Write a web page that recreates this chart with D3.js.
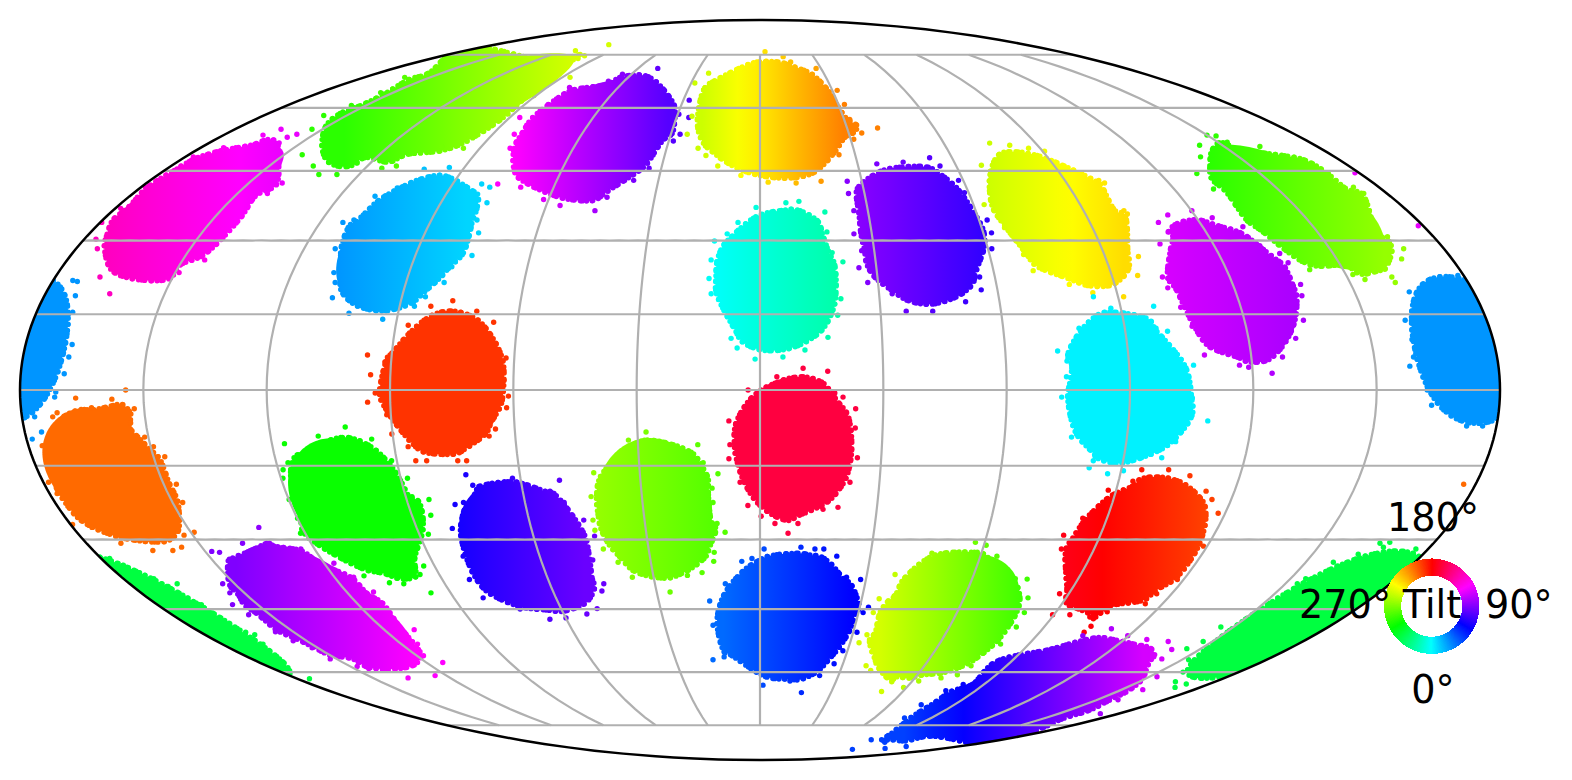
<!DOCTYPE html>
<html>
<head>
<meta charset="utf-8">
<script src="https://cdn.jsdelivr.net/npm/d3@7"></script>
<style>
html, body { margin: 0; padding: 0; background: #fff; }
svg { display: block; }
text { font-family: "DejaVu Sans", sans-serif; fill: #000; }
</style>
</head>
<body>
<svg id="chart" width="1572" height="780"></svg>
<script>
// Cluster centres, degrees
var clusterLon = [175, -160.5, -120, -57.5, 4.5, -95, 43, 82, 152.5, 120, 4.5, -76, 8, 89.5, -164, -105, -64, -27, 8.5, 58, 101.5, -131.5, 114, 172];
var clusterLat = [8, 37.5, 62, 54.5, 57.5, 29, 31.5, 35.5, 37.5, 19.5, 22, 1.5, -11, 0, -17, -23, -31.5, -23, -46.5, -46.5, -31.5, -44.5, -65.5, -47];
// Tilt of each cluster, west and east side
var tiltWest = [25, 135, 290, 120, 252, 25, 92, 252, 290, 110, 358, 192, 165, 3, 205, 298, 65, 265, 35, 250, 175, 90, 45, 315];
var tiltEast = [25, 115, 250, 80, 210, 10, 72, 232, 265, 100, 340, 192, 165, 3, 205, 298, 85, 280, 60, 285, 195, 120, 110, 315];
// These two sit across the map edge
var wrapClusters = [0, 23];

// Stray dots and edge dots of each cluster, [lon, lat], same order as the centres
var clusterDots = [
    [[163.8,19.5],[170.7,22],[178.5,22.8],[159.8,13.8],[160.1,10],[159.6,6.5],[158.4,4.7],[162.3,0],[163.5,-3],[167.9,-4.3],[172.7,-7.1],[176.6,-7.1],
     [-175,21.8],[-173.7,21.6],[-172.2,18.7],[-171,15.4],[-168.6,9],[-168.8,6.5],[-169.4,3.2],[-171.3,-0.4],[-171.6,-1.4],[-176.9,-5.3],[-175.9,-8.3],[-178.6,-9.7]],
    [[-164.2,54.7],[-155.9,53.5],[-157.5,52.8],[-166.8,53.3],[-140.2,42.3],[-141.4,40],[-143.8,34.8],[-144.3,26],[-149,23.4],[-150.7,22.2],[-163.8,19.1],[-168.6,22.5],
     [-174.4,28.3],[-176.9,30.3],[-179.6,33.8],[-178.5,36.8],[-178.7,41.4],[-176.9,46.1],[-177.5,48.2],[-172.6,50.3],[178.7,33.1],[178.8,44.6]],
    [[-153.6,54.7],[-158.3,58.1],[-144.3,48.7],[-136.5,46.1],[-132,44.2],[-126.6,44.2],[-124.1,46.8],[-114.9,45.6],[-111.1,46.1],[-95.3,50.2],[-102.7,50.6],[-161.6,68.2],
     [-156.2,69.4],[-154,71.9],[-155.4,60.6],[-155.1,64],[-102.5,78.4],[-99.6,74.7],[-112.4,76.3],[-86.4,68.2],[-99.6,73.8],[-93.1,57.4],[-90.8,63.2]],
    [[-50.3,70.8],[-27.7,62],[-25.6,57.6],[-29.6,58.4],[-26.9,53.5],[-28.5,51.9],[-33.7,45.6],[-37.3,42.9],[-45.9,36.3],[-43.6,39.2],[-56.1,37.4],[-61.4,38.7],
     [-69.6,41.4],[-76.8,42.1],[-80.3,50.2],[-82.7,53.5],[-86.4,57.6],[-81,60.9],[-80.5,65.4],[-66.9,67.1],[-64.2,69.1]],
    [[3,76],[13,74.4],[-24.2,69.4],[-28.4,66.6],[-24.6,57.9],[-24.5,53.5],[-19.9,50.2],[-17,48.5],[-12.9,46.1],[-5.7,44],[2.4,42.5],[10.6,42.3],
     [18,42.7],[24.9,48.7],[31,52.3],[34.4,53.8],[40.5,55],[32,57.1],[32.3,60.9],[32,64.6],[27.6,70.8],[16.1,72.7],[-3.6,72.2]],
    [[-94.6,45.8],[-101.8,45.4],[-78.6,41.4],[-81.5,42.1],[-77,38],[-77.5,34.3],[-75.6,31.6],[-75.2,26.9],[-79.5,24.6],[-80.3,21.4],[-84.1,18.5],[-86.3,16.6],
     [-93.5,14],[-102.2,15.2],[-107.4,18.3],[-108,21.4],[-109.3,23.4],[-111.8,28.3],[-113.8,33.8],[-111.2,34.3],[-109.9,39.4],[-105.3,41.2]],
    [[53,48],[55,46.1],[58.6,42.9],[58.8,40.2],[62.2,34.3],[62.2,31.6],[61,28.3],[56.1,22.5],[55.9,19.9],[51.5,17.5],[43,15.6],[36.4,15.6],
     [33.3,19.1],[27.4,21.4],[25.5,24.4],[26.7,27.9],[25.2,31.4],[26.1,36.3],[25.4,40],[25.7,42.7],[35.9,46.6],[44.2,47]],
    [[67.8,46.3],[75,51.4],[63,37.6],[81,50.9],[86.3,50.2],[90.6,49.5],[100,42.9],[101.1,42.3],[101.2,36.3],[101.6,35.6],[98.7,26.7],[96.6,22.8],
     [91.4,18.5],[83.9,19.3],[78.5,21],[70.2,23.8],[68.9,27.1],[66.2,32.7]],
    [[150,53.3],[152.6,53.1],[142.6,50.9],[138,48.2],[131,44.4],[131.4,41],[133.4,34.1],[134.7,32.5],[141.4,24],[151.8,23],[154.2,22],[161.5,21.4],
     [161.4,22.5],[166.9,26.2],[169.4,28.3],[167.7,30.8],[173.3,40],[172.6,41.4],[170.4,44.4],[168.4,47],[161.5,50.6],[153,51.6]],
    [[112.6,35.4],[108.7,33.8],[109.8,31.8],[105.9,29.3],[102.8,22.5],[103.2,20.3],[105,16.4],[106.7,12.6],[108.6,6.9],[116.9,4.9],[119.1,4.5],[124.7,3.3],
     [127.6,6.5],[131.6,10.2],[134.6,13.8],[136.3,18.7],[137.2,21],[136.8,25.4],[136,27.3],[132,28.9],[130.9,32.9],[124.3,34.8],[120.1,36.3]],
    [[7.3,38],[11,38.3],[-1.1,37],[18,36],[-6,33.8],[-8.8,31.4],[-12.1,29.9],[-12.7,26],[-13,22.2],[-12.3,19.1],[-7.1,10.2],[-5.6,8.3],
     [-1.2,6.1],[5.6,6.5],[11,7.9],[16.7,10.4],[19.3,14.8],[20.3,18.1],[21.5,25.6],[18.9,27.5],[18,31.8]],
    [[-82.2,16.6],[-70.5,15.6],[-77,17.7],[-65.9,13.4],[-62,6.3],[-61.2,-1.2],[-61.7,-3.5],[-64.7,-7.7],[-66.4,-9.1],[-72.7,-14],[-74.9,-14],[-82.6,-14],
     [-85.3,-14],[-86.6,-11.2],[-90.2,-8.7],[-91,-4.9],[-95.5,-2.4],[-93.6,-0.6],[-94.8,3],[-95.9,6.9],[-91.3,5.5],[-89.9,7.3],[-86.9,12.8]],
    [[16.5,3.7],[10.5,4.3],[4.1,2.6],[-2.9,0],[-7.6,-6.1],[-7.4,-10.8],[-7.7,-13.6],[-5,-18.3],[-3.1,-23],[0.3,-25.2],[3.9,-26.7],[7.4,-28.7],
     [9.9,-26.7],[16.2,-23.8],[20,-23.4],[22.6,-18.3],[24.1,-13.4],[23.3,-7.5],[23.3,-3.7],[20.2,-1.4],[18.2,-0.6]],
    [[98.3,16.6],[87.5,16.2],[83.8,18.5],[78.7,12.2],[72.8,7.7],[74.9,5.7],[74.6,2.6],[73.4,-1.4],[76.4,-9.3],[105.7,4.9],[105.2,-1.6],[109.3,-6.1],
     [100.4,11.6],[97.7,12.2],[81.9,-15.4],[86.8,-16.6],[90.6,-16],[99.4,-13.4],[102.1,-10.2],[82.6,-14]],
    [[-154.3,0],[-166.5,-1.6],[-157.7,-1.8],[-152.4,-3.7],[-162.8,-3.5],[-171.3,-4.5],[-172.5,-5.3],[-176.6,-11],[-176.6,-13.2],[-178.7,-18.3],[-178.1,-20.6],[-179.5,-26.9],
     [-175,-27.5],[-170.8,-30.8],[-163.9,-32.3],[-158.5,-32.3],[-155.4,-31.6],[-149.1,-28.5],[-152.3,-29.1],[-147.4,-22.4],[-146.8,-18.7],[-147.2,-13.2],[-149.3,-11.2],[-150.9,-9.3],[-153.7,-6.5],[177,-18.7]],
    [[-101.4,-7.3],[-108.3,-9.1],[-95.3,-9.7],[-116.9,-10.6],[-114.1,-12.8],[-117.1,-14.4],[-118.8,-15.8],[-119.5,-17.5],[-119.9,-21.8],[-119.9,-25.6],[-121.2,-28.7],[-111.4,-37.7],
     [-105.6,-39.2],[-101.7,-39.4],[-95.7,-41.4],[-95.4,-37.4],[-93,-35.6],[-87.6,-28.9],[-85.1,-25],[-84.3,-21.8],[-88.4,-21.2],[-88.3,-17.5],[-91.3,-14]],
    [[-73.5,-16.8],[-72.3,-18.9],[-62,-17.5],[-50.3,-17.9],[-53.1,-20.1],[-50,-22.4],[-45.8,-26],[-43.8,-29.3],[-45.8,-34.3],[-44.6,-39.4],[-45.8,-41],[-49.1,-44.9],
     [-52.9,-46.1],[-59.9,-47],[-65.1,-47.3],[-72.4,-45],[-81.4,-42.5],[-82.3,-38.5],[-80.8,-33.5],[-80.7,-27.7],[-78,-22.8],[-75.7,-22.4]],
    [[-27.9,-8.3],[-32.3,-9.9],[-15.3,-10.8],[-14.1,-14.4],[-10.5,-16.6],[-41.5,-16.4],[-42.9,-21.2],[-43.4,-26],[-43.4,-28.1],[-42.2,-32],[-39,-34.8],[-36,-38],
     [-26.1,-41.2],[-20.4,-37.6],[-16.2,-37],[-12.7,-34.6],[-12.4,-32.7],[-9.2,-28.5],[-11.2,-26.7],[-12,-22.4],[-12.1,-19.5]],
    [[1.1,-32],[11,-31.6],[14.8,-32],[17.2,-32],[20.9,-33.5],[-2.2,-34],[24.4,-38],[28.5,-38.5],[32.6,-44.6],[31.4,-45.8],[31.2,-50.3],[28.4,-54.7],
     [26.8,-57.9],[22.8,-60.9],[17.5,-65.4],[11.8,-62.3],[1.2,-63.4],[-16.7,-56.9],[-12.6,-56.2],[-14.8,-48.7],[-14.9,-43.2],[-9.9,-39.4],[-5,-34.6]],
    [[57.5,-30.6],[46.6,-32.9],[37.9,-37.4],[35.1,-42.7],[39.3,-42.1],[34.5,-45.8],[34.7,-50.9],[33,-52.8],[38.7,-58.4],[41.3,-59.6],[51,-65.1],[52.1,-62.5],
     [58.7,-64],[62.5,-62.3],[70.1,-61.5],[75.2,-60.7],[77,-58.4],[80.5,-53.1],[81.2,-49.1],[78.8,-42.5],[75.6,-38.4],[72.2,-38.3],[64.5,-33.5],[60.6,-31.2],[80.5,-45.8]],
    [[95.1,-15.8],[101.8,-15.8],[107.5,-17],[88,-19.9],[83.7,-25.6],[80.3,-29.1],[81.2,-32],[87.3,-41.6],[89.6,-46.3],[94.9,-46.3],[101.6,-46.8],[104.6,-48.9],
     [104.3,-50.3],[105.5,-45.6],[114.8,-43.8],[115.6,-41.6],[118.2,-38.5],[119,-31.4],[118.2,-24.6],[115.1,-21.8],[112.8,-20.1],[93.6,-18.1]],
    [[-131.3,-27.5],[-148.2,-32.5],[-146.3,-32.7],[-153.4,-39.4],[-154.2,-41.4],[-157.5,-44],[-156.6,-46.3],[-155.7,-50.2],[-154.4,-52.3],[-151.9,-54],[-152.2,-56.7],[-147.5,-58.6],
     [-144.6,-59.1],[-136.3,-61.5],[-124.3,-60.9],[-114.1,-57.6],[-117.6,-55.9],[-114.6,-53.1],[-110.4,-49.7],[-112.6,-43.6],[-112.2,-41.2],[-114.6,-38],[-117.3,-35],[-121.4,-35.6],[-123.7,-32],[-131.1,-30.8],[-138.3,-30.8]],
    [[94.3,-83.8],[83,-80],[99,-80.9],[75.9,-72.7],[74.6,-68.8],[77.6,-64.9],[81.6,-63.2],[85.4,-57.9],[99.6,-54.2],[105,-51.1],[111.9,-49.5],[119.6,-51.1],
     [127.4,-52],[135.4,-52.5],[140.5,-54.4],[142.3,-56.7],[152.8,-61.2],[158.7,-64.6],[159.3,-67.4],[170.8,-71.4],[157.1,-72.5],[159.3,-74.4],[174.7,-80],[132.8,-82.6],[122.5,-83.4]],
    [[-177.7,-34],[-175.8,-35.4],[-173.8,-37],[-171.4,-38.3],[-166.4,-39.4],[-169.9,-40],[-169.3,-42.3],[-166.8,-44],[-167.9,-48.7],[-165.5,-50.3],[-163.9,-50.9],[-166.3,-53.1],[-171.1,-57.4],[-175,-59.3],[-175.2,-61.7],
     [165.7,-30.8],[168.1,-30.6],[167.5,-31.6],[176.7,-32],[162.4,-33.1],[157.6,-34.8],[154.3,-38.3],[153.4,-39.4],[146,-49.1],[147,-52.5],[145.2,-54.2],[152.3,-56.9],[154.9,-57.1],[159,-60],[164.3,-62.5],[169.7,-64],[170.8,-63.1]]
];

var latTicks = [-75, -60, -45, -30, -15, 0, 15, 30, 45, 60, 75];
var lonTicks = [-150, -120, -90, -60, -30, 0, 30, 60, 90, 120, 150];
var clusterRadius = 13.5;
var wrapRadius = 14.6;
var dotRadius = 2.7;
var edgePull = 0.9;   // solid part ends a little inside the edge dots

// Mollweide, d3 core has no ready one
function mollweideRaw(lambda, phi) {
    var theta = phi;
    if (Math.abs(Math.abs(phi) - Math.PI / 2) > 1e-6) {
        for (var i = 0; i < 40; i++) {
            var delta = (2 * theta + Math.sin(2 * theta) - Math.PI * Math.sin(phi)) / (2 + 2 * Math.cos(2 * theta));
            theta -= delta;
            if (Math.abs(delta) < 1e-9) break;
        }
    }
    return [2 * Math.SQRT2 / Math.PI * lambda * Math.cos(theta), Math.SQRT2 * Math.sin(theta)];
}

var projection = d3.geoProjection(mollweideRaw)
    .scale(740 / (2 * Math.SQRT2))
    .translate([760, 390])
    .precision(0.1);
var path = d3.geoPath(projection);

var svg = d3.select('#chart');
var defs = svg.append('defs');

function tiltColor(tilt) {
    return d3.hsl((180 + tilt) % 360, 1, 0.5).formatHex();
}

// Outline through the edge dots, sorted round the centre and lightly smoothed
function clusterOutline(dots, center) {
    var polar = dots.map(function(d) {
        var p = projection(d);
        return { x: p[0] - center[0], y: p[1] - center[1] };
    }).filter(function(p) {
        // dots that landed on the other side of the map are no part of the outline
        return Math.hypot(p.x, p.y) < 300;
    }).map(function(p) {
        return { angle: Math.atan2(p.y, p.x), r: Math.hypot(p.x, p.y) };
    }).sort(function(a, b) { return a.angle - b.angle; });

    var n = polar.length;
    return polar.map(function(p, k) {
        var r = (polar[(k + n - 1) % n].r + 2 * p.r + polar[(k + 1) % n].r) / 4 * edgePull;
        return [center[0] + r * Math.cos(p.angle), center[1] + r * Math.sin(p.angle)];
    });
}

// Fill plus two round-dotted strokes, so the edge looks stippled
function drawBlob(d, fill) {
    marks.append('path').attr('d', d).attr('fill', fill);
    [[5.4, '0 6.1'], [5.4, '0 9.7']].forEach(function(style) {
        marks.append('path')
            .attr('d', d)
            .attr('fill', 'none')
            .attr('stroke', fill)
            .attr('stroke-width', style[0])
            .attr('stroke-linecap', 'round')
            .attr('stroke-dasharray', style[1]);
    });
}

// clip everything to the globe
defs.append('clipPath').attr('id', 'globe').append('path').attr('d', path({ type: 'Sphere' }));

var marks = svg.append('g').attr('clip-path', 'url(#globe)');
var outlineLine = d3.line().curve(d3.curveCatmullRomClosed);

clusterLon.forEach(function(lon, i) {
    var isWrap = wrapClusters.indexOf(i) >= 0;
    var circle = d3.geoCircle().center([lon, clusterLat[i]]).radius(isWrap ? wrapRadius : clusterRadius).precision(2)();
    var bounds = path.bounds(circle);

    // dots and shapes take their tilt from where they sit across the cluster
    var tiltScale = d3.scaleLinear()
        .domain([bounds[0][0], bounds[1][0]])
        .range([tiltWest[i], tiltEast[i]])
        .clamp(true);

    var gradient = defs.append('linearGradient')
        .attr('id', 'cluster' + i)
        .attr('gradientUnits', 'userSpaceOnUse')
        .attr('x1', bounds[0][0]).attr('y1', 0)
        .attr('x2', bounds[1][0]).attr('y2', 0);
    d3.range(0, 1.01, 0.125).forEach(function(t) {
        gradient.append('stop')
            .attr('offset', t)
            .attr('stop-color', tiltColor(tiltWest[i] + (tiltEast[i] - tiltWest[i]) * t));
    });

    var fill = 'url(#cluster' + i + ')';
    if (isWrap) {
        drawBlob(path(circle), fill);
    } else {
        marks.append('path').attr('d', path(circle)).attr('fill', fill);
        drawBlob(outlineLine(clusterOutline(clusterDots[i], projection([lon, clusterLat[i]]))), fill);
    }

    marks.append('g').selectAll('circle')
        .data(clusterDots[i])
        .enter()
        .append('circle')
        .attr('cx', function(d) { return projection(d)[0]; })
        .attr('cy', function(d) { return projection(d)[1]; })
        .attr('r', dotRadius)
        .attr('fill', function(d) { return tiltColor(tiltScale(projection(d)[0])); });
});

// Grid, meridians stop at 75 degrees like the parallels
var grid = svg.append('g').attr('fill', 'none').attr('stroke', '#b0b0b0').attr('stroke-width', 2.2);
latTicks.forEach(function(lat) {
    var line = { type: 'LineString', coordinates: d3.range(-180, 180.5, 5).map(function(lon) { return [Math.max(-179.999, Math.min(179.999, lon)), lat]; }) };
    grid.append('path').attr('d', path(line));
});
lonTicks.forEach(function(lon) {
    var line = { type: 'LineString', coordinates: d3.range(-75, 75.5, 2.5).map(function(lat) { return [lon, lat]; }) };
    grid.append('path').attr('d', path(line));
});

svg.append('path')
    .attr('d', path({ type: 'Sphere' }))
    .attr('fill', 'none')
    .attr('stroke', '#000')
    .attr('stroke-width', 2.5);

// Tilt colour ring
var ring = svg.append('g').attr('transform', 'translate(1431.7,606.2)').attr('shape-rendering', 'crispEdges');
var arc = d3.arc().innerRadius(30.5).outerRadius(47.7);
d3.range(0, 360, 1).forEach(function(tilt) {
    // 0 at the bottom, 90 at the right
    var a = Math.PI - tilt * Math.PI / 180;
    ring.append('path')
        .attr('d', arc({ startAngle: a - 0.02, endAngle: a + 0.02 }))
        .attr('fill', tiltColor(tilt));
});

var labels = [
    { text: '180\u00b0', x: 1433, y: 531, anchor: 'middle' },
    { text: '0\u00b0', x: 1433, y: 703, anchor: 'middle' },
    { text: '270\u00b0', x: 1299, y: 618, anchor: 'start' },
    { text: '90\u00b0', x: 1485, y: 618, anchor: 'start' },
    { text: 'Tilt', x: 1432, y: 618, anchor: 'middle' }
];
svg.append('g').selectAll('text').data(labels).enter().append('text')
    .attr('x', function(d) { return d.x; })
    .attr('y', function(d) { return d.y; })
    .attr('text-anchor', function(d) { return d.anchor; })
    .attr('font-size', 38.2)
    .text(function(d) { return d.text; });
</script>
</body>
</html>
